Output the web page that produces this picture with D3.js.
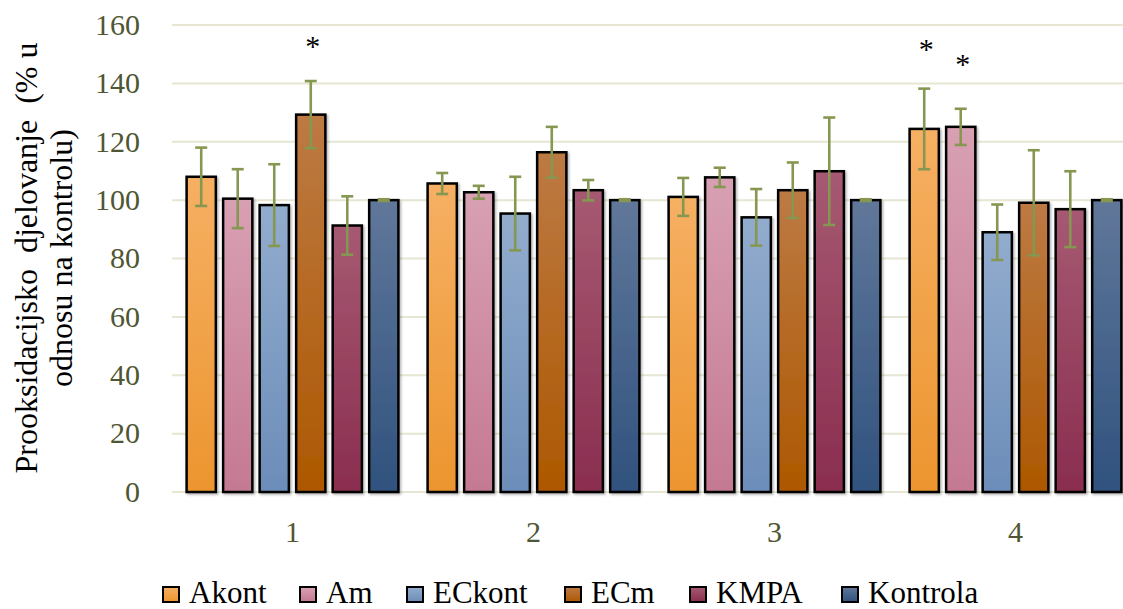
<!DOCTYPE html>
<html><head><meta charset="utf-8">
<script src="https://cdn.jsdelivr.net/npm/d3@7"></script>
<style>html,body{margin:0;padding:0;background:#fff;}svg{display:block;}</style>
</head><body>
<svg id="chart" width="1123" height="609" font-family="Liberation Serif"></svg>
<script>
const categories = ["1", "2", "3", "4"];
const seriesNames = ["Akont", "Am", "ECkont", "ECm", "KMPA", "Kontrola"];
const Akont = [108, 105.7, 101.1, 124.4];
const Am = [100.5, 102.7, 107.8, 125.1];
const ECkont = [98.3, 95.4, 94.1, 89.0];
const ECm = [129.3, 116.4, 103.4, 99.1];
const KMPA = [91.3, 103.4, 109.9, 96.9];
const Kontrola = [100, 100, 100, 100];
const AkontErr = [10, 3.6, 6.5, 13.8];
const AmErr = [10.1, 2.2, 3.3, 6.2];
const ECkontErr = [14, 12.6, 9.7, 9.5];
const ECmErr = [11.5, 8.7, 9.5, 18];
const KMPAErr = [10, 3.5, 18.4, 13];
const KontrolaErr = [0.3, 0.3, 0.3, 0.3];
const yTicks = [0, 20, 40, 60, 80, 100, 120, 140, 160];
const stars = [
  {cat: "1", series: "ECm", y: 154},
  {cat: "4", series: "Akont", y: 152.7},
  {cat: "4", series: "Am", y: 147.7}
];
const yTitle = ["Prooksidacijsko  djelovanje  (% u", "odnosu na kontrolu)"];

const values = {Akont, Am, ECkont, ECm, KMPA, Kontrola};
const errors = {Akont: AkontErr, Am: AmErr, ECkont: ECkontErr, ECm: ECmErr, KMPA: KMPAErr, Kontrola: KontrolaErr};
const grads = {
  Akont: ["#F6B063", "#EC952F"],
  Am: ["#D8A0B3", "#C47992"],
  ECkont: ["#92ACCD", "#6C8DB9"],
  ECm: ["#BD7A44", "#AD5800"],
  KMPA: ["#A65A72", "#8A2D4F"],
  Kontrola: ["#60779A", "#30527E"]
};
// legend layout (left edge of each swatch)
const legendX = [163, 300, 407, 565, 690, 842];

const svg = d3.select("#chart");
const font = "Liberation Serif";
const tickColor = "#4F5633";

const defs = svg.append("defs");
seriesNames.forEach(s => {
  const g = defs.append("linearGradient").attr("id", "g-" + s)
    .attr("x1", 0).attr("y1", 0).attr("x2", 0).attr("y2", 1);
  g.append("stop").attr("offset", "0%").attr("stop-color", grads[s][0]);
  g.append("stop").attr("offset", "100%").attr("stop-color", grads[s][1]);
});
const f = defs.append("filter").attr("id", "shadow").attr("x", "-20%").attr("y", "-20%").attr("width", "150%").attr("height", "150%");
f.append("feDropShadow").attr("dx", 1.5).attr("dy", 1.5).attr("stdDeviation", 1).attr("flood-color", "#000").attr("flood-opacity", 0.3);

const y = d3.scaleLinear().domain([0, 160]).range([492, 25]);
const x0 = d3.scaleBand().domain(categories).range([172, 1136]).padding(0);
const x1 = d3.scaleBand().domain(seriesNames).range([0, x0.bandwidth()]).paddingInner(0.2).paddingOuter(0.4);

// gridlines
svg.append("g").selectAll("line").data(yTicks).join("line")
  .attr("x1", 172).attr("x2", 1123)
  .attr("y1", d => y(d)).attr("y2", d => y(d))
  .attr("stroke", "#E6E6D3").attr("stroke-width", 2);

// y tick labels
const yAxis = d3.axisLeft(y).tickValues(yTicks).tickSize(0).tickPadding(0);
const ya = svg.append("g").attr("transform", "translate(140,0)").call(yAxis);
ya.attr("font-family", font).attr("font-size", 30);
ya.select(".domain").remove();
ya.selectAll("text").attr("font-family", font).attr("font-size", 30).attr("fill", tickColor).attr("dy", "0.31em");

// x tick labels
const xAxis = d3.axisBottom(x0).tickSize(0).tickPadding(0);
const xa = svg.append("g").attr("transform", "translate(0,542)").call(xAxis);
xa.attr("font-family", font).attr("font-size", 30);
xa.select(".domain").remove();
xa.selectAll("text").attr("font-family", font).attr("font-size", 30).attr("fill", tickColor).attr("dy", "0");

// bars
const groups = svg.append("g").selectAll("g").data(categories).join("g")
  .attr("transform", d => `translate(${x0(d)},0)`);
groups.each(function(cat, ci) {
  const g = d3.select(this);
  const data = seriesNames.map(s => ({s, v: values[s][ci], e: errors[s][ci]}));
  g.selectAll("rect").data(data).join("rect")
    .attr("x", d => x1(d.s)).attr("width", x1.bandwidth())
    .attr("y", d => y(d.v)).attr("height", d => y(0) - y(d.v))
    .attr("fill", d => `url(#g-${d.s})`)
    .attr("stroke", "#000").attr("stroke-width", 2.5)
    .attr("filter", "url(#shadow)");
  const eb = g.selectAll("g.err").data(data).join("g").attr("class", "err")
    .attr("stroke", "#869751").attr("stroke-width", 2.6);
  eb.append("line")
    .attr("x1", d => x1(d.s) + x1.bandwidth() / 2).attr("x2", d => x1(d.s) + x1.bandwidth() / 2)
    .attr("y1", d => y(d.v + d.e)).attr("y2", d => y(d.v - d.e));
  eb.append("line")
    .attr("x1", d => x1(d.s) + x1.bandwidth() / 2 - 6).attr("x2", d => x1(d.s) + x1.bandwidth() / 2 + 6)
    .attr("y1", d => y(d.v + d.e)).attr("y2", d => y(d.v + d.e));
  eb.append("line")
    .attr("x1", d => x1(d.s) + x1.bandwidth() / 2 - 6).attr("x2", d => x1(d.s) + x1.bandwidth() / 2 + 6)
    .attr("y1", d => y(d.v - d.e)).attr("y2", d => y(d.v - d.e));
});

// stars
svg.append("g").selectAll("text").data(stars).join("text")
  .attr("x", d => x0(d.cat) + x1(d.series) + x1.bandwidth() / 2 + 2)
  .attr("y", d => y(d.y) + 13)
  .attr("text-anchor", "middle")
  .attr("font-family", font).attr("font-size", 30).attr("fill", "#000")
  .text("*");

// y title
const yt = svg.append("g").attr("transform", "translate(0,258) rotate(-90)");
yt.selectAll("text").data(yTitle).join("text")
  .attr("x", 0).attr("y", (d, i) => 37 + i * 35)
  .attr("text-anchor", "middle")
  .attr("font-family", font).attr("font-size", 32).attr("fill", "#000")
  .style("white-space", "pre")
  .text(d => d);

// legend
const leg = svg.append("g");
const items = leg.selectAll("g").data(seriesNames).join("g")
  .attr("transform", (d, i) => `translate(${legendX[i]},603)`);
items.append("rect").attr("width", 16).attr("height", 15).attr("y", -16)
  .attr("fill", d => `url(#g-${d})`).attr("stroke", "#000").attr("stroke-width", 2);
items.append("text").attr("x", 26).attr("y", 0)
  .attr("font-family", font).attr("font-size", 31).attr("fill", "#000")
  .text(d => d);
</script>
</body></html>
